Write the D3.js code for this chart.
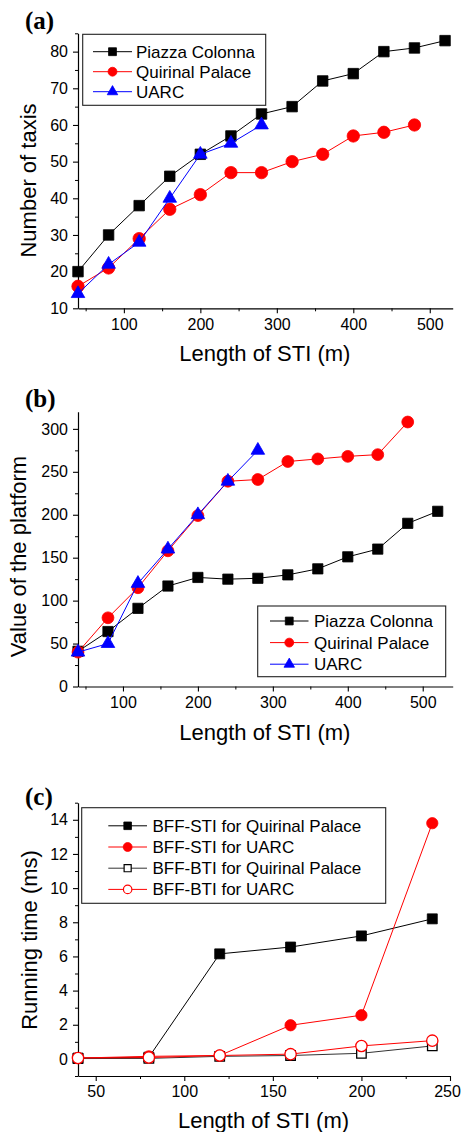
<!DOCTYPE html>
<html>
<head>
<meta charset="utf-8">
<script src="https://cdn.jsdelivr.net/npm/d3@7"></script>
<style>
  html, body { margin: 0; padding: 0; background: #fff; }
  svg { display: block; }
  text { font-family: "Liberation Sans", Arial, sans-serif; fill: #000; }
  .panel-label { font-family: "Liberation Serif", "Times New Roman", serif; font-weight: bold; }
</style>
</head>
<body>
<svg id="chart" width="462" height="1132"></svg>
<script>
// ---- data ----
const stiLengthA = [40, 80, 120, 160, 200, 240, 280, 320, 360, 400, 440, 480, 520];
const taxisPiazza = [20, 30, 38, 46, 52, 57, 63, 65, 72, 74, 80, 81, 83];
const taxisQuirinal = [16, 21, 29, 37, 41, 47, 47, 50, 52, 57, 58, 60];
const taxisUARC = [14, 22, 28, 40, 52, 55, 60];

const valuePiazza = [41, 64, 91, 117, 127, 125, 126, 130, 137, 151, 160, 190, 204];
const valueQuirinal = [40, 80, 115, 158, 199, 239, 241, 262, 265, 268, 270, 308];
const valueUARC = [40, 50, 120, 160, 200, 239, 275];

const stiLengthC = [40, 80, 120, 160, 200, 240];
const stiTimeQuirinal = [0.05, 0.1, 6.15, 6.55, 7.2, 8.2];
const stiTimeUARC = [0.05, 0.15, 0.2, 1.97, 2.56, 13.8];
const btiTimeQuirinal = [0.02, 0.03, 0.15, 0.2, 0.33, 0.76];
const btiTimeUARC = [0.05, 0.08, 0.2, 0.28, 0.76, 1.07];

const ticksXA = [100, 200, 300, 400, 500];
const minorXA = [50, 150, 250, 350, 450];
const ticksYA = [10, 20, 30, 40, 50, 60, 70, 80];
const minorYA = [15, 25, 35, 45, 55, 65, 75, 85];

const ticksXB = [100, 200, 300, 400, 500];
const minorXB = [50, 150, 250, 350, 450];
const ticksYB = [0, 50, 100, 150, 200, 250, 300];
const minorYB = [25, 75, 125, 175, 225, 275];

const ticksXC = [50, 100, 150, 200, 250];
const minorXC = [75, 125, 175, 225];
const ticksYC = [0, 2, 4, 6, 8, 10, 12, 14];
const minorYC = [-1, 1, 3, 5, 7, 9, 11, 13, 15];

const svg = d3.select("#chart");
svg.append("rect").attr("width", 462).attr("height", 1132).attr("fill", "#fff");

const symbolOf = { square: d3.symbolSquare, circle: d3.symbolCircle, triangle: d3.symbolTriangle };

function drawPanel(p) {
  const g = svg.append("g");
  const x = d3.scaleLinear().domain(p.xDomain).range([p.left, p.right]);
  const y = d3.scaleLinear().domain(p.yDomain).range([p.bottom, p.top]);

  // minor ticks
  g.append("g").attr("transform", `translate(0,${p.bottom})`)
    .call(d3.axisBottom(x).tickValues(p.minorX).tickSize(3).tickFormat(""))
    .call(a => a.select(".domain").remove());
  g.append("g").attr("transform", `translate(${p.left},0)`)
    .call(d3.axisLeft(y).tickValues(p.minorY).tickSize(3).tickFormat(""))
    .call(a => a.select(".domain").remove());

  // major axes
  const xa = g.append("g").attr("transform", `translate(0,${p.bottom})`)
    .call(d3.axisBottom(x).tickValues(p.ticksX).tickSize(5).tickPadding(5).tickSizeOuter(0));
  const ya = g.append("g").attr("transform", `translate(${p.left},0)`)
    .call(d3.axisLeft(y).tickValues(p.ticksY).tickSize(5).tickPadding(5).tickSizeOuter(0));
  [xa, ya].forEach(a => {
    a.selectAll("text").style("font-size", "16px").attr("font-family", null);
    a.selectAll("line").attr("stroke", "#000").attr("stroke-width", 1.1);
    a.select(".domain").attr("stroke", "#000").attr("stroke-width", 1.2);
  });
  // keep a label that sits at the far right edge inside the page
  xa.selectAll(".tick text").filter(d => x(d) > 440).attr("dx", -3);
  g.selectAll("line").attr("stroke", "#000");

  // titles
  g.append("text").attr("x", (p.left + p.right) / 2 - 0.5).attr("y", p.xTitleY)
    .attr("text-anchor", "middle").style("font-size", "22px").text("Length of STI (m)");
  g.append("text").attr("transform", `translate(${p.yTitleX},${p.yTitleCY}) rotate(-90)`)
    .attr("text-anchor", "middle").style("font-size", "22px").text(p.yTitle);
  g.append("text").attr("class", "panel-label").attr("x", 25).attr("y", p.labelY)
    .style("font-size", "25px").text(p.label);

  // series
  const line = d3.line().x(d => x(d[0])).y(d => y(d[1]));
  p.series.forEach(s => {
    const pts = s.values.map((v, i) => [s.xs[i], v]);
    const sg = g.append("g");
    sg.append("path").datum(pts).attr("d", line)
      .attr("fill", "none").attr("stroke", s.lineColor || s.color).attr("stroke-width", 1);
    sg.selectAll("path.mk").data(pts).join("path").attr("class", "mk")
      .attr("transform", d => `translate(${x(d[0])},${y(d[1])})`)
      .attr("d", d3.symbol(symbolOf[s.shape], s.size))
      .attr("fill", s.open ? "#fff" : s.color)
      .attr("stroke", s.color).attr("stroke-width", s.open ? 1.3 : 0.8);
  });

  // legend
  const L = p.legend;
  g.append("rect").attr("x", L.x0).attr("y", L.y0).attr("width", L.x1 - L.x0).attr("height", L.y1 - L.y0)
    .attr("fill", "#fff").attr("stroke", "#222").attr("stroke-width", 1.1);
  p.series.forEach((s, i) => {
    const cy = L.firstY + i * L.step;
    g.append("line").attr("x1", L.lineX0).attr("x2", L.lineX1).attr("y1", cy).attr("y2", cy)
      .attr("stroke", s.lineColor || s.color).attr("stroke-width", 1);
    g.append("path").attr("transform", `translate(${(L.lineX0 + L.lineX1) / 2},${cy})`)
      .attr("d", d3.symbol(symbolOf[s.shape], s.legendSize))
      .attr("fill", s.open ? "#fff" : s.color).attr("stroke", s.color).attr("stroke-width", s.open ? 1.2 : 0.8);
    g.append("text").attr("x", L.textX).attr("y", cy + 6).style("font-size", "17px").text(s.name);
  });
}

const BLACK = "#000", RED = "#ff0000", BLUE = "#0000ff";

drawPanel({
  label: "(a)", labelY: 29,
  xDomain: [40, 530], yDomain: [10, 85],
  left: 78, right: 452.7, top: 33.3, bottom: 308.3,
  ticksX: ticksXA, minorX: minorXA, ticksY: ticksYA, minorY: minorYA,
  xTitleY: 361, yTitle: "Number of taxis", yTitleX: 36, yTitleCY: 180.5,
  legend: { x0: 82.7, x1: 265.7, y0: 34.3, y1: 105.3, firstY: 51.7, step: 20,
            lineX0: 93, lineX1: 132, textX: 136 },
  series: [
    { name: "Piazza Colonna", xs: stiLengthA, values: taxisPiazza, color: BLACK, shape: "square", size: 110, legendSize: 62 },
    { name: "Quirinal Palace", xs: stiLengthA, values: taxisQuirinal, color: RED, shape: "circle", size: 120, legendSize: 62 },
    { name: "UARC", xs: stiLengthA, values: taxisUARC, color: BLUE, shape: "triangle", size: 80, legendSize: 48 }
  ]
});

drawPanel({
  label: "(b)", labelY: 407,
  xDomain: [40, 540], yDomain: [0, 320],
  left: 78, right: 452.7, top: 411.7, bottom: 686.5,
  ticksX: ticksXB, minorX: minorXB, ticksY: ticksYB, minorY: minorYB,
  xTitleY: 740, yTitle: "Value of the platform", yTitleX: 26, yTitleCY: 556.5,
  legend: { x0: 257.7, x1: 445.7, y0: 606, y1: 676.7, firstY: 621, step: 21.6,
            lineX0: 270, lineX1: 308.5, textX: 314 },
  series: [
    { name: "Piazza Colonna", xs: stiLengthA, values: valuePiazza, color: BLACK, shape: "square", size: 105, legendSize: 62 },
    { name: "Quirinal Palace", xs: stiLengthA, values: valueQuirinal, color: RED, shape: "circle", size: 110, legendSize: 62 },
    { name: "UARC", xs: stiLengthA, values: valueUARC, color: BLUE, shape: "triangle", size: 80, legendSize: 48 }
  ]
});

drawPanel({
  label: "(c)", labelY: 805,
  xDomain: [40, 250], yDomain: [-1, 15],
  left: 78, right: 450, top: 802.7, bottom: 1076,
  ticksX: ticksXC, minorX: minorXC, ticksY: ticksYC, minorY: minorYC,
  xTitleY: 1128, yTitle: "Running time (ms)", yTitleX: 36.5, yTitleCY: 940,
  legend: { x0: 81.7, x1: 385.7, y0: 807.7, y1: 903.3, firstY: 825.8, step: 21.2,
            lineX0: 108.3, lineX1: 147, textX: 152.5 },
  series: [
    { name: "BFF-STI for Quirinal Palace", xs: stiLengthC, values: stiTimeQuirinal, color: BLACK, shape: "square", size: 100, legendSize: 58 },
    { name: "BFF-STI for UARC", xs: stiLengthC, values: stiTimeUARC, color: RED, shape: "circle", size: 100, legendSize: 62 },
    { name: "BFF-BTI for Quirinal Palace", xs: stiLengthC, values: btiTimeQuirinal, color: BLACK, lineColor: "#333", shape: "square", size: 90, legendSize: 50, open: true },
    { name: "BFF-BTI for UARC", xs: stiLengthC, values: btiTimeUARC, color: RED, shape: "circle", size: 100, legendSize: 56, open: true }
  ]
});
</script>
</body>
</html>
